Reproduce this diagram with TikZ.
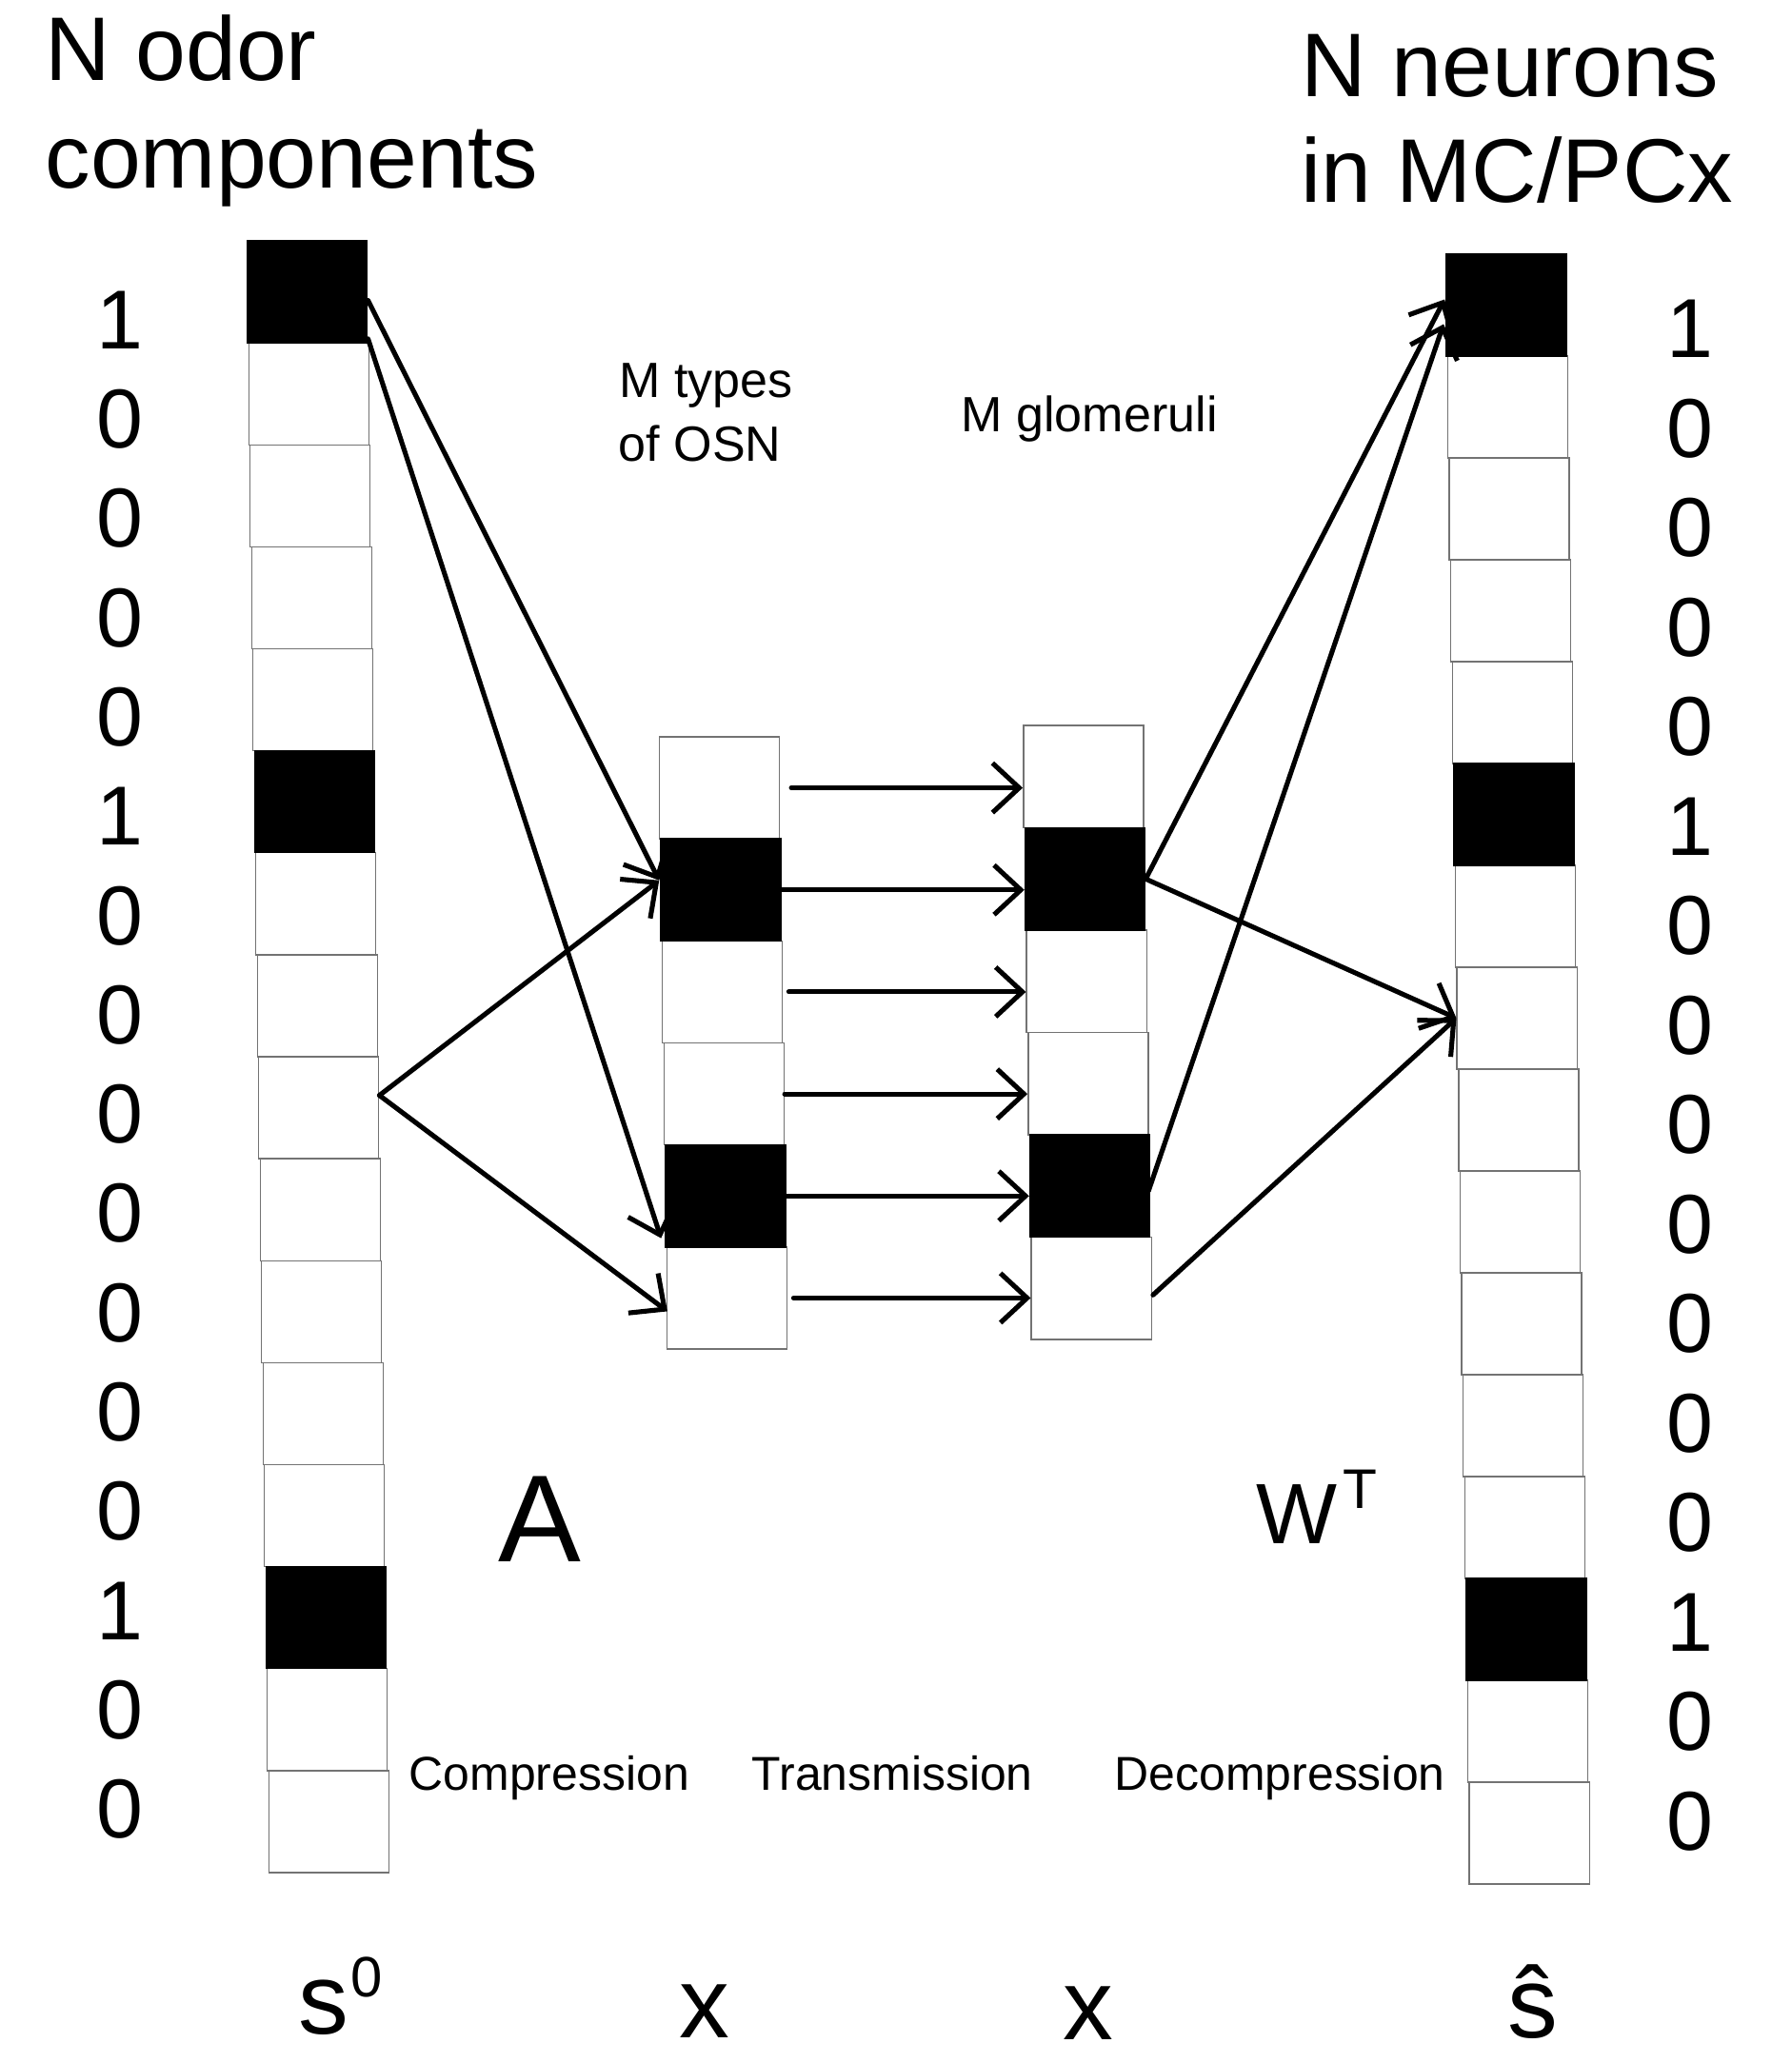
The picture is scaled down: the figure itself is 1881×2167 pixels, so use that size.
\documentclass[tikz,border=0pt]{standalone}
\usepackage{fontspec}
\setmainfont{Liberation Sans}
\usetikzlibrary{arrows.meta,calc}

\begin{document}
\begin{tikzpicture}[x=0.01cm,y=-0.01cm,
  cell/.style={draw=black!55, line width=0.4pt, fill=white, inner sep=0pt, minimum width=1.26cm},
  link/.style={line width=1.45pt, line cap=round, line join=round,
    -{Straight Barb[length=0.28cm,width=0.52cm,line width=1.45pt]}},
  digit/.style={inner sep=0pt, font=\fontsize{25}{30}\selectfont},
  title/.style={anchor=base west, inner sep=0pt, font=\fontsize{27}{32}\selectfont},
  small/.style={anchor=base west, inner sep=0pt, font=\fontsize{14.8}{18}\selectfont},
  stage/.style={anchor=base west, inner sep=0pt, font=\fontsize{14.2}{17}\selectfont},
  sym/.style={inner sep=0pt, font=\fontsize{30}{34}\selectfont},
]
\path[use as bounding box] (0,0) rectangle (1881,2167);
\clip (0,0) rectangle (1881,2167);
\fill[white] (0,0) rectangle (1881,2167);

% ---- columns: top centre and bottom centre of each vector ----
\coordinate (s0top) at (322,253);   \coordinate (s0bot) at (346,1967);
\coordinate (x1top) at (754.5,774); \coordinate (x1bot) at (764.5,1417);
\coordinate (x2top) at (1137,762);  \coordinate (x2bot) at (1147,1407);
\coordinate (shtop) at (1581,267);  \coordinate (shbot) at (1607,1979);

\foreach \k in {1,...,16}{
  \pgfmathsetmacro\t{(\k-0.5)/16}
  \node[cell, minimum height=1.071cm] (s0-\k) at ($(s0top)!\t!(s0bot)$) {};
  \node[cell, minimum height=1.07cm] (sh-\k) at ($(shtop)!\t!(shbot)$) {};
}
\foreach \k in {1,...,6}{
  \pgfmathsetmacro\t{(\k-0.5)/6}
  \node[cell, minimum height=1.072cm] (x1-\k) at ($(x1top)!\t!(x1bot)$) {};
  \node[cell, minimum height=1.075cm] (x2-\k) at ($(x2top)!\t!(x2bot)$) {};
}
% active entries
\foreach \c in {s0-1,s0-6,s0-14,x1-2,x1-5,x2-2,x2-5,sh-1,sh-6,sh-14}
  \fill[black] (\c.north west) rectangle (\c.south east);

% ---- entry values ----
\foreach \v [count=\i] in {1,0,0,0,0,1,0,0,0,0,0,0,0,1,0,0}{
  \node[digit] (lv-\i) at (126,{336+(\i-1)*104.3}) {\v};
  \node[digit] (rv-\i) at (1775,{345.5+(\i-1)*104.5}) {\v};
}

% ---- headings ----
\node[title] (tl1) at (47,85)    {N odor};
\node[title] (tl2) at (47,198)   {components};
\node[title] (tr1) at (1366,102) {N neurons};
\node[title] (tr2) at (1366,213) {in MC/PCx};

\node[small] (osn1) at (650,417)  {M types};
\node[small] (osn2) at (649,484)  {of OSN};
\node[small] (glom) at (1009,453) {M glomeruli};

% ---- compression (A) ----
\coordinate (fork) at ($(s0-9.east)+(0,-13)$);
\draw[link] ($(s0-1.east)+(0,9)$) -- ($(x1-2.west)+(-1,-10)$);
\draw[link] ($(s0-1.south east)+(0,-5)$) -- ($(x1-5.south west)+(-4,-10)$);
\draw[link] (fork) -- ($(x1-2.west)+(-1,-10)$);
\draw[link] (fork) -- ($(x1-6.west)+(1,14)$);

% ---- transmission ----
\foreach \k/\g in {1/12,2/0,3/6,4/0,5/0,6/6}
  \draw[link] ($(x1-\k.east)+(\g,0)$) -- (x1-\k.east -| x2-\k.west);

% ---- decompression (W^T) ----
\draw[link] (x2-2.east) -- ($(sh-1.west)+(-1,-6)$);
\draw[link] (x2-2.east) -- (sh-8.west);
\draw[link] ($(x2-5.east)+(-2,5)$) -- ($(sh-1.west)+(-2,20)$);
\draw[link] ($(x2-6.east)+(1,7)$) -- (sh-8.west);

% ---- matrix labels ----
\node[anchor=base, inner sep=0pt, font=\fontsize{37}{40}\selectfont] (A) at (567,1640) {A};
\node[anchor=base west, inner sep=0pt] (WT) at (1319,1621)
  {\fontsize{25.6}{30}\selectfont W\hspace{0.06cm}\raisebox{0.36cm}{\fontsize{16.7}{20}\selectfont T}};

\node[stage] (comp)   at (429,1880)  {Compression};
\node[stage] (trans)  at (789,1880)  {Transmission};
\node[stage] (decomp) at (1170,1880) {Decompression};

% ---- vector names ----
\node[sym, anchor=base west] (s0lab) at (313,2136)
  {s\hspace{0.02cm}\raisebox{0.39cm}{\fontsize{17}{20}\selectfont 0}};
\node[sym, anchor=base] (xlab1) at (740,2140) {x};
\node[sym, anchor=base] (xlab2) at (1143,2142) {x};
\node[sym, anchor=base] (shlab) at (1610,2140) {\^{s}};
\end{tikzpicture}
\end{document}
